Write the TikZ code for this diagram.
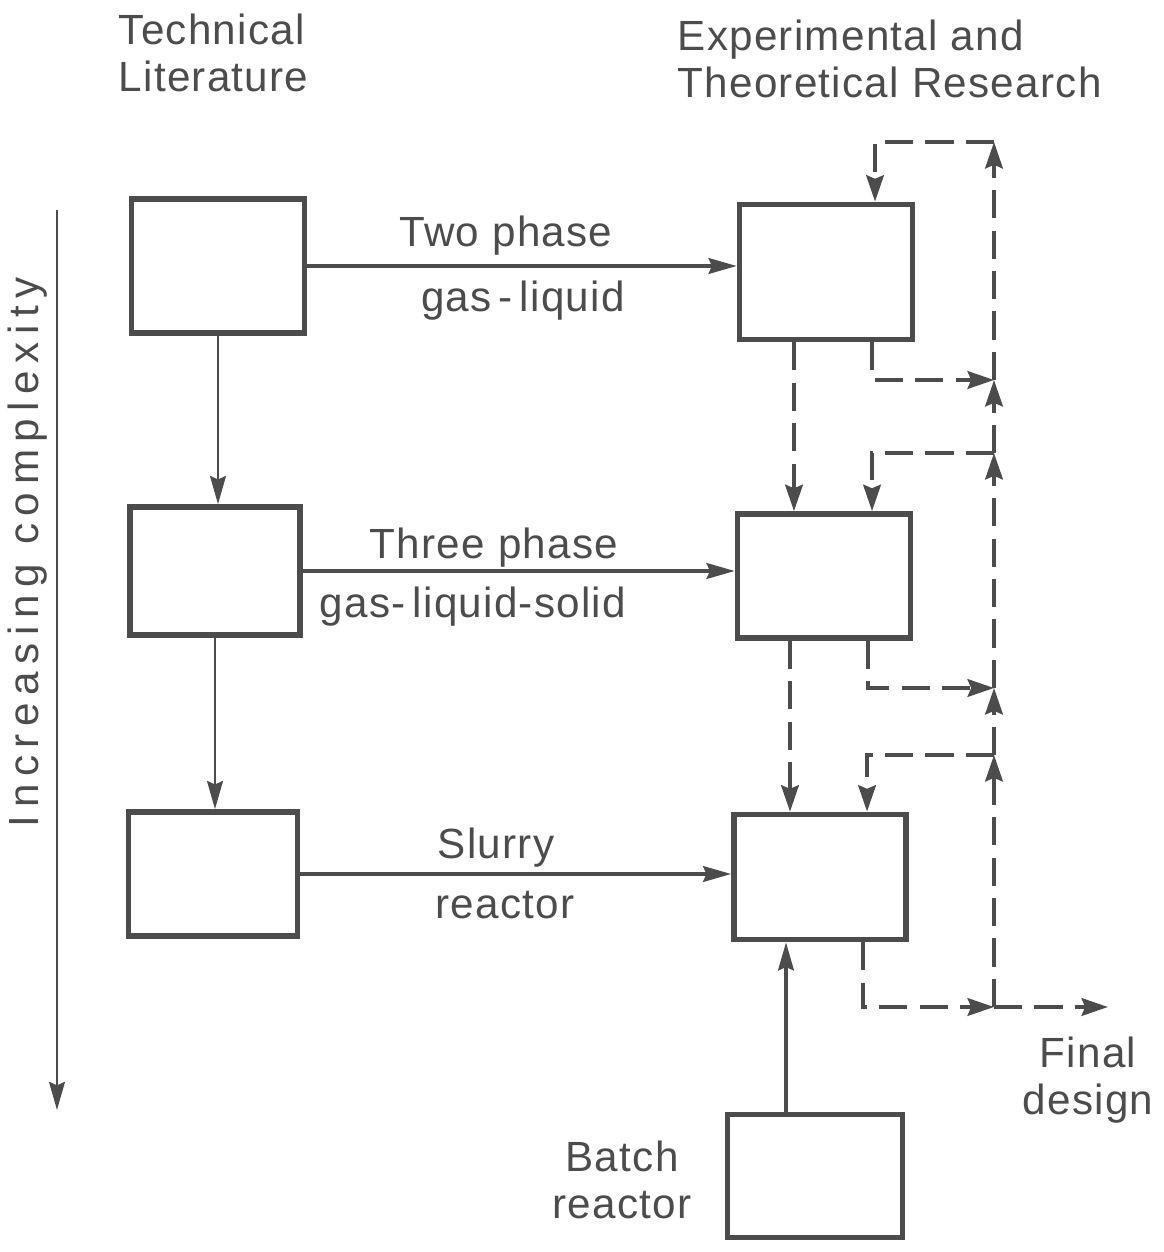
\documentclass[tikz,border=0pt]{standalone}
\usepackage{fontspec}
\setmainfont{Liberation Sans}[LetterSpace=3]
\usetikzlibrary{arrows.meta,positioning}
\definecolor{ink}{gray}{0.30}

\begin{document}
\begin{tikzpicture}[
  x=0.01cm, y=-0.01cm,
  every node/.style={text=ink, font=\fontsize{12}{13.4}\selectfont, inner sep=0pt},
  stage/.style={rectangle, draw=ink, line width=1.6pt, minimum width=1.73cm, minimum height=1.29cm},
  feed/.style={-{Stealth[length=8pt,width=4.5pt,inset=1pt]}, draw=ink, line width=0.9pt},
  recycle/.style={-{Stealth[length=7.5pt,width=5pt,inset=1pt]}, draw=ink, line width=1.1pt, dash pattern=on 8pt off 3.5pt},
  lbl/.style={anchor=base}
]
\useasboundingbox (0,0) rectangle (1163,1252);

% 見出し
\node[align=left, anchor=north west] (techlit) at (118,13) {Technical\\Literature};
\node[align=left, anchor=north west] (research) at (677,19) {Experimental and\\Theoretical Research};

% 文献側の箱
\node[stage, minimum height=1.34cm] (lit1) at (218,266) {};
\node[stage, minimum width=1.70cm, minimum height=1.28cm] (lit2) at (215,571) {};
\node[stage, minimum width=1.69cm, minimum height=1.24cm] (lit3) at (213,874) {};

% 研究側の箱
\node[stage, minimum height=1.35cm] (res1) at (826,272) {};
\node[stage, minimum height=1.24cm] (res2) at (824,576) {};
\node[stage, minimum width=1.72cm, minimum height=1.25cm] (res3) at (820,877) {};
\node[stage, minimum width=1.75cm, minimum height=1.23cm] (batch) at (815,1176) {};

% 矢印のラベル
\node[lbl] (twoph) at (506,247) {Two phase};
\node[lbl] (gasliq) at (523,312) {gas\,-\,liquid};
\node[lbl] (threeph) at (494,558) {Three phase};
\node[lbl] (gls) at (473,617) {gas-\,liquid-solid};
\node[lbl] (slurry) at (496,858) {Slurry};
\node[lbl] (slurryr) at (505,918) {reactor};
\node[align=center, anchor=north] (batchlbl) at (622,1140) {Batch\\reactor};
\node[align=center, anchor=north] (final) at (1088,1036) {Final\\design};

% 複雑さの軸
\node[rotate=90, font=\fontsize{12}{13.4}\selectfont\addfontfeatures{LetterSpace=18}] (complexity) at (28,552) {Increasing complexity};
\coordinate (cplx0) at (57,210);
\coordinate (cplx1) at (57,1110);
\draw[feed, line width=0.7pt] (cplx0) -- (cplx1);

% 実線の矢印
\draw[feed] (lit1.east) -- (lit1.east -| res1.west);
\draw[feed] (lit2.east) -- (lit2.east -| res2.west);
\draw[feed] (lit3.east) -- (lit3.east -| res3.west);
\draw[feed, line width=0.8pt] (lit1.south) -- (lit1.south |- lit2.north);
\draw[feed, line width=0.8pt] (lit2.south) -- (lit2.south |- lit3.north);
\draw[feed] ([xshift=-0.29cm]batch.north) -- ([xshift=-0.29cm]batch.north |- res3.south);

% 破線（フィードバック）
\coordinate (top1) at (994,142);
\coordinate (j1) at (994,380);
\coordinate (top2) at (994,453);
\coordinate (j2) at (994,688);
\coordinate (top3) at (994,755);
\coordinate (j3) at (994,1007);
\coordinate (fin) at (1108,1007);

\draw[recycle] ([xshift=-0.32cm]res1.south) -- ([xshift=-0.32cm]res1.south |- res2.north);
\draw[recycle] ([xshift=-0.34cm]res2.south) -- ([xshift=-0.34cm]res2.south |- res3.north);
\draw[recycle] ([xshift=0.46cm]res1.south) |- (j1);
\draw[recycle] ([xshift=0.44cm]res2.south) |- (j2);
\draw[recycle] ([xshift=0.43cm]res3.south) |- (j3);
\draw[recycle] (top1) -| ([xshift=0.49cm]res1.north);
\draw[recycle] (top2) -| ([xshift=0.48cm]res2.north);
\draw[recycle] (top3) -| ([xshift=0.47cm]res3.north);
\foreach \a/\b in {j1/top1, top2/j1, j2/top2, top3/j2, j3/top3}
  \draw[recycle] (\a) -- (\b);
\draw[recycle] (j3) -- (fin);

\end{tikzpicture}
\end{document}
